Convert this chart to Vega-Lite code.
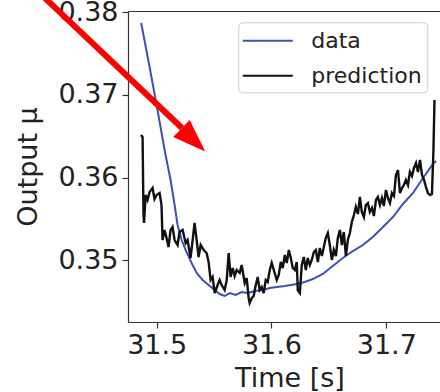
{
  "$schema": "https://vega.github.io/schema/vega-lite/v6.json",
  "width": 312,
  "height": 311,
  "autosize": {"type": "none"},
  "padding": {"left": 128, "top": 11, "right": 0, "bottom": 70},
  "background": "white",
  "config": {
    "font": "DejaVu Sans",
    "view": {"stroke": null},
    "axis": {
      "labelFont": "DejaVu Sans", "titleFont": "DejaVu Sans",
      "labelFontSize": 27, "titleFontSize": 27, "titleFontWeight": "normal",
      "labelColor": "#222", "titleColor": "#222",
      "domainColor": "#333", "domainWidth": 1.2,
      "tickColor": "#333", "tickSize": 6, "tickWidth": 1.2,
      "grid": false, "labelPadding": 4
    }
  },
  "datasets": {
    "measured": [
      {"t": 31.4865, "v": 0.37868}, {"t": 31.4938, "v": 0.37337}, {"t": 31.5007, "v": 0.36817},
      {"t": 31.5077, "v": 0.36274}, {"t": 31.5121, "v": 0.35972}, {"t": 31.5156, "v": 0.35670},
      {"t": 31.5182, "v": 0.35429}, {"t": 31.5217, "v": 0.35247}, {"t": 31.5260, "v": 0.35102},
      {"t": 31.5304, "v": 0.34970}, {"t": 31.5348, "v": 0.34849}, {"t": 31.5400, "v": 0.34764},
      {"t": 31.5452, "v": 0.34704}, {"t": 31.5505, "v": 0.34643}, {"t": 31.5548, "v": 0.34595},
      {"t": 31.5592, "v": 0.34571}, {"t": 31.5636, "v": 0.34607}, {"t": 31.5688, "v": 0.34583},
      {"t": 31.5740, "v": 0.34619}, {"t": 31.5793, "v": 0.34607}, {"t": 31.5854, "v": 0.34631},
      {"t": 31.5924, "v": 0.34643}, {"t": 31.5985, "v": 0.34668}, {"t": 31.6046, "v": 0.34680},
      {"t": 31.6116, "v": 0.34692}, {"t": 31.6220, "v": 0.34716}, {"t": 31.6290, "v": 0.34740},
      {"t": 31.6360, "v": 0.34776}, {"t": 31.6447, "v": 0.34837}, {"t": 31.6534, "v": 0.34933},
      {"t": 31.6622, "v": 0.35030}, {"t": 31.6709, "v": 0.35114}, {"t": 31.6796, "v": 0.35187},
      {"t": 31.6883, "v": 0.35284}, {"t": 31.6971, "v": 0.35404}, {"t": 31.7058, "v": 0.35525},
      {"t": 31.7145, "v": 0.35682}, {"t": 31.7233, "v": 0.35815}, {"t": 31.7320, "v": 0.35996},
      {"t": 31.7407, "v": 0.36165}, {"t": 31.7434, "v": 0.36202}
    ],
    "predicted": [
      {"t": 31.4863, "v": 0.36516}, {"t": 31.4877, "v": 0.36491}, {"t": 31.4885, "v": 0.35549},
      {"t": 31.4890, "v": 0.35453}, {"t": 31.4903, "v": 0.35791}, {"t": 31.4920, "v": 0.35730},
      {"t": 31.4938, "v": 0.35827}, {"t": 31.4964, "v": 0.35875}, {"t": 31.4981, "v": 0.35743},
      {"t": 31.4999, "v": 0.35791}, {"t": 31.5025, "v": 0.35815}, {"t": 31.5042, "v": 0.35670},
      {"t": 31.5051, "v": 0.35247}, {"t": 31.5068, "v": 0.35368}, {"t": 31.5086, "v": 0.35272},
      {"t": 31.5103, "v": 0.35163}, {"t": 31.5121, "v": 0.35368}, {"t": 31.5138, "v": 0.35404},
      {"t": 31.5156, "v": 0.35247}, {"t": 31.5182, "v": 0.35187}, {"t": 31.5199, "v": 0.35344},
      {"t": 31.5226, "v": 0.35368}, {"t": 31.5252, "v": 0.35211}, {"t": 31.5269, "v": 0.35247},
      {"t": 31.5295, "v": 0.35030}, {"t": 31.5313, "v": 0.35247}, {"t": 31.5330, "v": 0.35453},
      {"t": 31.5348, "v": 0.35247}, {"t": 31.5365, "v": 0.35042}, {"t": 31.5383, "v": 0.35187},
      {"t": 31.5409, "v": 0.35127}, {"t": 31.5435, "v": 0.35090}, {"t": 31.5452, "v": 0.34982},
      {"t": 31.5470, "v": 0.34764}, {"t": 31.5487, "v": 0.34801}, {"t": 31.5505, "v": 0.34607},
      {"t": 31.5531, "v": 0.34704}, {"t": 31.5548, "v": 0.34764}, {"t": 31.5566, "v": 0.34704},
      {"t": 31.5592, "v": 0.34643}, {"t": 31.5610, "v": 0.34764}, {"t": 31.5627, "v": 0.35090},
      {"t": 31.5644, "v": 0.34801}, {"t": 31.5662, "v": 0.34909}, {"t": 31.5679, "v": 0.34813},
      {"t": 31.5697, "v": 0.34885}, {"t": 31.5723, "v": 0.34849}, {"t": 31.5740, "v": 0.34945},
      {"t": 31.5767, "v": 0.34728}, {"t": 31.5784, "v": 0.34788}, {"t": 31.5801, "v": 0.34547},
      {"t": 31.5810, "v": 0.34487}, {"t": 31.5828, "v": 0.34547}, {"t": 31.5845, "v": 0.34571},
      {"t": 31.5863, "v": 0.34704}, {"t": 31.5880, "v": 0.34801}, {"t": 31.5897, "v": 0.34643},
      {"t": 31.5915, "v": 0.34680}, {"t": 31.5932, "v": 0.34607}, {"t": 31.5950, "v": 0.34764},
      {"t": 31.5967, "v": 0.34740}, {"t": 31.5985, "v": 0.34885}, {"t": 31.6002, "v": 0.34970},
      {"t": 31.6020, "v": 0.34885}, {"t": 31.6046, "v": 0.34764}, {"t": 31.6063, "v": 0.34825},
      {"t": 31.6081, "v": 0.34982}, {"t": 31.6098, "v": 0.34909}, {"t": 31.6116, "v": 0.35066},
      {"t": 31.6133, "v": 0.34970}, {"t": 31.6151, "v": 0.35127}, {"t": 31.6168, "v": 0.35030},
      {"t": 31.6185, "v": 0.34909}, {"t": 31.6203, "v": 0.34885}, {"t": 31.6220, "v": 0.34982},
      {"t": 31.6229, "v": 0.34643}, {"t": 31.6247, "v": 0.34607}, {"t": 31.6264, "v": 0.34945},
      {"t": 31.6281, "v": 0.35042}, {"t": 31.6299, "v": 0.34885}, {"t": 31.6316, "v": 0.35030},
      {"t": 31.6334, "v": 0.34945}, {"t": 31.6351, "v": 0.35006}, {"t": 31.6369, "v": 0.35102},
      {"t": 31.6386, "v": 0.35127}, {"t": 31.6404, "v": 0.34982}, {"t": 31.6421, "v": 0.35151},
      {"t": 31.6439, "v": 0.35054}, {"t": 31.6456, "v": 0.35163}, {"t": 31.6473, "v": 0.35272},
      {"t": 31.6491, "v": 0.35332}, {"t": 31.6508, "v": 0.35187}, {"t": 31.6526, "v": 0.35006},
      {"t": 31.6543, "v": 0.35127}, {"t": 31.6561, "v": 0.35054}, {"t": 31.6578, "v": 0.35272},
      {"t": 31.6596, "v": 0.35368}, {"t": 31.6613, "v": 0.35187}, {"t": 31.6630, "v": 0.35344},
      {"t": 31.6648, "v": 0.35054}, {"t": 31.6665, "v": 0.35247}, {"t": 31.6683, "v": 0.35332},
      {"t": 31.6700, "v": 0.35465}, {"t": 31.6718, "v": 0.35549}, {"t": 31.6735, "v": 0.35646},
      {"t": 31.6753, "v": 0.35561}, {"t": 31.6770, "v": 0.35767}, {"t": 31.6787, "v": 0.35586},
      {"t": 31.6805, "v": 0.35525}, {"t": 31.6822, "v": 0.35670}, {"t": 31.6840, "v": 0.35694},
      {"t": 31.6857, "v": 0.35586}, {"t": 31.6875, "v": 0.35634}, {"t": 31.6892, "v": 0.35537},
      {"t": 31.6910, "v": 0.35730}, {"t": 31.6927, "v": 0.35767}, {"t": 31.6945, "v": 0.35670},
      {"t": 31.6962, "v": 0.35755}, {"t": 31.6979, "v": 0.35658}, {"t": 31.6997, "v": 0.35851},
      {"t": 31.7014, "v": 0.35755}, {"t": 31.7032, "v": 0.35694}, {"t": 31.7049, "v": 0.35815},
      {"t": 31.7067, "v": 0.35779}, {"t": 31.7084, "v": 0.36032}, {"t": 31.7102, "v": 0.36093},
      {"t": 31.7119, "v": 0.35815}, {"t": 31.7137, "v": 0.35875}, {"t": 31.7154, "v": 0.35912},
      {"t": 31.7171, "v": 0.35972}, {"t": 31.7189, "v": 0.35912}, {"t": 31.7206, "v": 0.36069},
      {"t": 31.7224, "v": 0.36020}, {"t": 31.7241, "v": 0.36117}, {"t": 31.7259, "v": 0.36177},
      {"t": 31.7276, "v": 0.36069}, {"t": 31.7294, "v": 0.36214}, {"t": 31.7311, "v": 0.36032},
      {"t": 31.7329, "v": 0.35972}, {"t": 31.7346, "v": 0.35887}, {"t": 31.7363, "v": 0.35815},
      {"t": 31.7381, "v": 0.35791}, {"t": 31.7398, "v": 0.35803}, {"t": 31.7411, "v": 0.36334},
      {"t": 31.7420, "v": 0.36938}
    ],
    "arrow": [{"t1": 31.3971, "v1": 0.38242, "t2": 31.5220, "v2": 0.36600}],
    "head": [{"t": 31.5319, "v": 0.36455}]
  },
  "layer": [
    {
      "data": {"name": "measured"},
      "mark": {"type": "line", "strokeWidth": 2},
      "encoding": {
        "x": {"field": "t", "type": "quantitative",
              "scale": {"domain": [31.475, 31.7468], "nice": false, "zero": false},
              "axis": {"values": [31.5, 31.6, 31.7], "format": ".1f", "title": "Time [s]", "titleX": 161.5, "titlePadding": 7}},
        "y": {"field": "v", "type": "quantitative",
              "scale": {"domain": [0.34257, 0.38013], "nice": false, "zero": false},
              "axis": {"values": [0.35, 0.36, 0.37, 0.38], "format": ".2f", "title": "Output μ", "titlePadding": 15}},
        "color": {"datum": "data",
                  "scale": {"domain": ["data", "prediction"], "range": ["#4050b0", "#111111"]},
                  "legend": {"orient": "none", "legendX": 110.3, "legendY": 11.3, "title": null,
                             "symbolType": "M-2,0L2,0", "symbolSize": 625, "symbolStrokeWidth": 2,
                             "symbolOffset": 11, "labelOffset": 30, "labelFontSize": 22,
                             "labelFont": "DejaVu Sans", "labelColor": "#222", "padding": 5,
                             "rowPadding": 10, "strokeColor": "#cccccc", "fillColor": "white", "cornerRadius": 4}}
      }
    },
    {
      "data": {"name": "predicted"},
      "mark": {"type": "line", "strokeWidth": 2.4},
      "encoding": {
        "x": {"field": "t", "type": "quantitative", "axis": null},
        "y": {"field": "v", "type": "quantitative"},
        "color": {"datum": "prediction"}
      }
    },
    {
      "data": {"name": "arrow"},
      "mark": {"type": "rule", "color": "#ff0000", "strokeWidth": 6, "strokeCap": "butt"},
      "encoding": {
        "x": {"field": "t1", "type": "quantitative",
              "axis": {"orient": "top", "labels": false, "ticks": false, "title": null, "domain": true}},
        "y": {"field": "v1", "type": "quantitative"},
        "x2": {"field": "t2"},
        "y2": {"field": "v2"}
      }
    },
    {
      "data": {"name": "head"},
      "mark": {"type": "point", "shape": "M1,0L-1,-0.72L-1,0.72Z", "filled": true, "color": "#ff0000",
               "opacity": 1, "size": 1089, "angle": 44, "strokeWidth": 0},
      "encoding": {
        "x": {"field": "t", "type": "quantitative", "axis": null},
        "y": {"field": "v", "type": "quantitative"}
      }
    }
  ],
  "resolve": {"axis": {"x": "independent"}}
}
